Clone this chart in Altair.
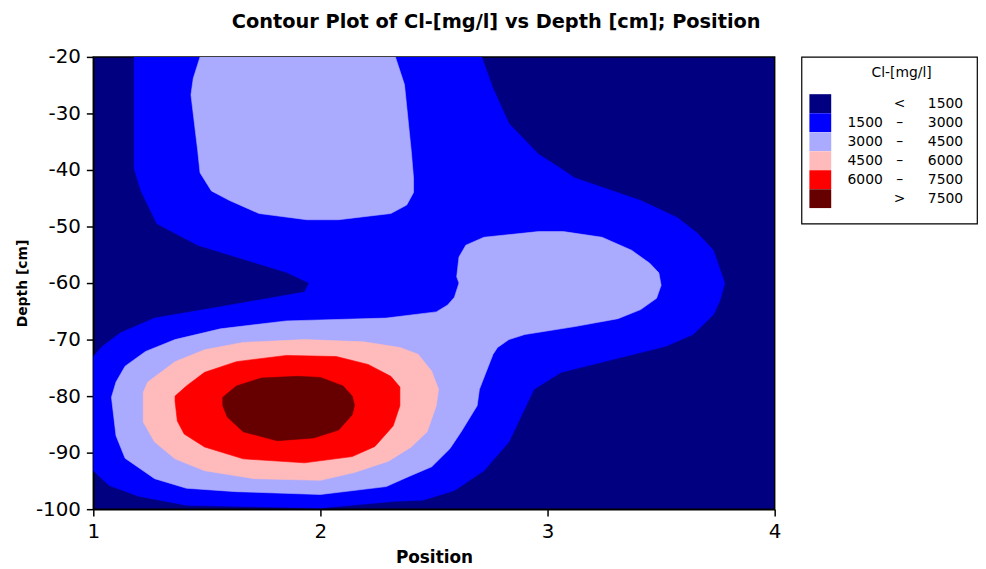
import altair as alt
import pandas as pd

# ---------------- data ----------------
x_ticks = [1, 2, 3, 4]
y_ticks = [-20, -30, -40, -50, -60, -70, -80, -90, -100]

# contour class colours (lowest -> highest)
class_colors = ["#000080", "#0000FF", "#AAAAFF", "#FFBBBB", "#FF0000", "#660000"]
class_names = ["<1500", "1500-3000", "3000-4500", "4500-6000", "6000-7500", ">7500"]
legend_lo = ["", "1500", "3000", "4500", "6000", ""]
legend_sym = ["<", "–", "–", "–", "–", ">"]
legend_hi = ["1500", "3000", "4500", "6000", "7500", "7500"]

# 1500-3000 region (boundary of everything >= 1500)
blue_x = [1.18, 2.71, 2.76, 2.83, 2.96, 3.03, 3.12, 3.41, 3.57, 3.66, 3.73, 3.78, 3.76, 3.73,
          3.64, 3.52, 3.06, 2.94, 2.83, 2.72, 2.59, 2.45, 2.33, 2.00, 1.41, 1.20, 1.07, 1.00,
          1.00, 1.04, 1.12, 1.27, 1.56, 1.93, 1.95, 1.85, 1.46, 1.28, 1.21, 1.18]
blue_y = [-20, -20, -25.6, -31.8, -37.2, -39.0, -41.4, -45.4, -48.4, -51.2, -54.2, -60.0, -63.0, -65.6,
          -69.1, -71.2, -75.8, -78.8, -88.1, -93.2, -96.7, -98.4, -98.6, -99.8, -99.3, -97.7, -95.8, -93.2,
          -73.0, -71.2, -68.8, -66.2, -64.2, -61.6, -60.0, -58.1, -53.3, -49.5, -43.7, -39.8]

# 3000-4500, upper patch
lb1_x = [1.47, 1.44, 1.43, 1.46, 1.47, 1.52, 1.60, 1.73, 1.94, 2.08, 2.31, 2.38, 2.41, 2.41, 2.40, 2.37, 2.33]
lb1_y = [-20, -23.8, -26.7, -36.7, -40.5, -43.7, -45.4, -47.7, -48.8, -48.8, -47.7, -46.2, -44.0, -41.4, -36.7, -24.9, -20]

# 3000-4500, lower patch (bottom-left blob joined to right lobe)
lb2_x = [2.64, 2.72, 2.96, 3.07, 3.24, 3.37, 3.45, 3.49, 3.50, 3.48, 3.41, 3.31, 3.12, 2.90, 2.83, 2.78,
         2.76, 2.70, 2.69, 2.62, 2.57, 2.49, 2.39, 2.29, 2.00, 1.63, 1.41, 1.27, 1.14, 1.10, 1.08, 1.10,
         1.14, 1.23, 1.36, 1.56, 1.85, 2.29, 2.51, 2.56, 2.59, 2.61, 2.60, 2.61]
lb2_y = [-53.3, -51.9, -50.9, -50.9, -51.9, -54.2, -56.5, -58.2, -60.4, -62.7, -64.7, -66.3, -67.7, -69.1, -70.0, -71.4,
         -72.6, -78.8, -81.7, -86.3, -89.3, -92.5, -94.2, -96.0, -97.4, -96.9, -96.3, -94.6, -91.0, -87.0, -80.2, -77.5,
         -74.7, -72.1, -70.0, -68.1, -66.7, -66.2, -65.1, -63.9, -62.5, -60.0, -58.9, -55.4]

# 4500-6000
pink_x = [1.22, 1.22, 1.24, 1.36, 1.49, 1.66, 1.93, 2.19, 2.35, 2.43, 2.49, 2.52, 2.51, 2.47, 2.40,
          2.30, 2.15, 2.00, 1.71, 1.49, 1.36, 1.27]
pink_y = [-84.6, -79.3, -77.5, -73.9, -71.8, -70.5, -70.0, -70.4, -71.4, -72.6, -75.6, -78.8, -81.7, -86.3, -89.0,
          -91.5, -93.5, -94.9, -94.6, -93.2, -91.1, -88.1]

# 6000-7500
red_x = [1.36, 1.36, 1.41, 1.49, 1.63, 1.85, 2.07, 2.21, 2.31, 2.35, 2.35, 2.32, 2.24, 2.14, 1.93, 1.66, 1.49, 1.40, 1.37]
red_y = [-80.9, -80.0, -78.2, -75.8, -73.9, -72.8, -73.0, -74.4, -76.5, -78.4, -81.7, -85.3, -88.9, -90.7, -91.8, -91.1, -89.0, -86.7, -84.4]

# > 7500
dred_x = [1.57, 1.63, 1.74, 1.90, 2.00, 2.10, 2.14, 2.15, 2.14, 2.08, 1.97, 1.81, 1.66, 1.59, 1.57]
dred_y = [-80.2, -78.2, -76.8, -76.5, -76.7, -78.2, -80.0, -81.6, -83.3, -86.0, -87.4, -87.9, -86.3, -83.7, -81.7]

# ---------------- chart ----------------
FONT = "DejaVu Sans"
W, H = 687, 456

def poly_df(parts):
    rows = []
    for p, (xs, ys) in enumerate(parts):
        pts = list(zip(xs, ys)) + [(xs[0], ys[0])]
        for i, (xv, yv) in enumerate(pts):
            rows.append({"x": xv, "y": yv, "i": i, "part": p})
    return pd.DataFrame(rows)

xscale = alt.Scale(domain=[1, 4], nice=False, zero=False)
yscale = alt.Scale(domain=[-100, -20], nice=False, zero=False)
xaxis = alt.Axis(values=x_ticks, title="Position", labelExpr="'' + datum.value",
                 labelFlush=False, labelPadding=6, titlePadding=8, titleFontSize=17)
yaxis = alt.Axis(values=y_ticks, title="Depth [cm]", labelExpr="'' + datum.value",
                 labelFlush=False, labelPadding=6, titlePadding=6, titleFontSize=14)

def layer(parts, color):
    return alt.Chart(poly_df(parts)).mark_line(
        fill=color, stroke=color, strokeWidth=0.6, clip=True, interpolate="linear"
    ).encode(
        x=alt.X("x:Q", scale=xscale, axis=xaxis),
        y=alt.Y("y:Q", scale=yscale, axis=yaxis),
        order=alt.Order("i:Q"),
        detail="part:N",
    )

main = alt.layer(
    layer([(blue_x, blue_y)], class_colors[1]),
    layer([(lb1_x, lb1_y), (lb2_x, lb2_y)], class_colors[2]),
    layer([(pink_x, pink_y)], class_colors[3]),
    layer([(red_x, red_y)], class_colors[4]),
    layer([(dred_x, dred_y)], class_colors[5]),
).properties(
    width=W, height=H,
    view=alt.ViewBackground(fill=class_colors[0], stroke="black", strokeWidth=1.5),
)

leg_df = pd.DataFrame({
    "cat": class_names, "color": class_colors,
    "lo": legend_lo, "sym": legend_sym, "hi": legend_hi,
})
ycat = alt.Y("cat:N", sort=class_names, axis=None,
             scale=alt.Scale(type="point", range=[37.5, 152.5]))
leg_base = alt.Chart(leg_df)
swatches = leg_base.mark_rect(height=19).encode(
    x=alt.value(8), x2=alt.value(30), y=ycat,
    color=alt.Color("color:N", scale=None),
)
txt_lo = leg_base.mark_text(align="right", baseline="middle", fontSize=14, font=FONT).encode(
    x=alt.value(82), y=ycat, text="lo:N")
txt_sym = leg_base.mark_text(align="center", baseline="middle", fontSize=14, font=FONT).encode(
    x=alt.value(99), y=ycat, text="sym:N")
txt_hi = leg_base.mark_text(align="right", baseline="middle", fontSize=14, font=FONT).encode(
    x=alt.value(163), y=ycat, text="hi:N")
leg_title = alt.Chart(pd.DataFrame({"t": ["Cl-[mg/l]"]})).mark_text(
    align="center", baseline="middle", fontSize=14, font=FONT
).encode(x=alt.value(101), y=alt.value(16), text="t:N")

legend = alt.layer(swatches, txt_lo, txt_sym, txt_hi, leg_title).properties(
    width=177, height=168,
    view=alt.ViewBackground(fill="white", stroke="black", strokeWidth=1.2),
)

chart = alt.hconcat(main, legend, spacing=18).properties(
    title=alt.TitleParams(
        "Contour Plot of Cl-[mg/l] vs Depth [cm]; Position",
        font=FONT, fontSize=19.5, fontWeight="bold", anchor="middle", color="black", offset=14,
    ),
    padding={"left": 6, "top": 1, "right": 0, "bottom": 0},
).configure_axis(
    labelFont=FONT, labelFontSize=20, labelColor="black",
    titleFont=FONT, titleFontWeight="bold", titleColor="black",
    domainColor="black", domainWidth=1.5, tickColor="black", tickWidth=1.5, tickSize=7,
    grid=False,
).configure_view(stroke="black")

chart.save("out.html", embed_options={"renderer": "svg", "actions": False})
